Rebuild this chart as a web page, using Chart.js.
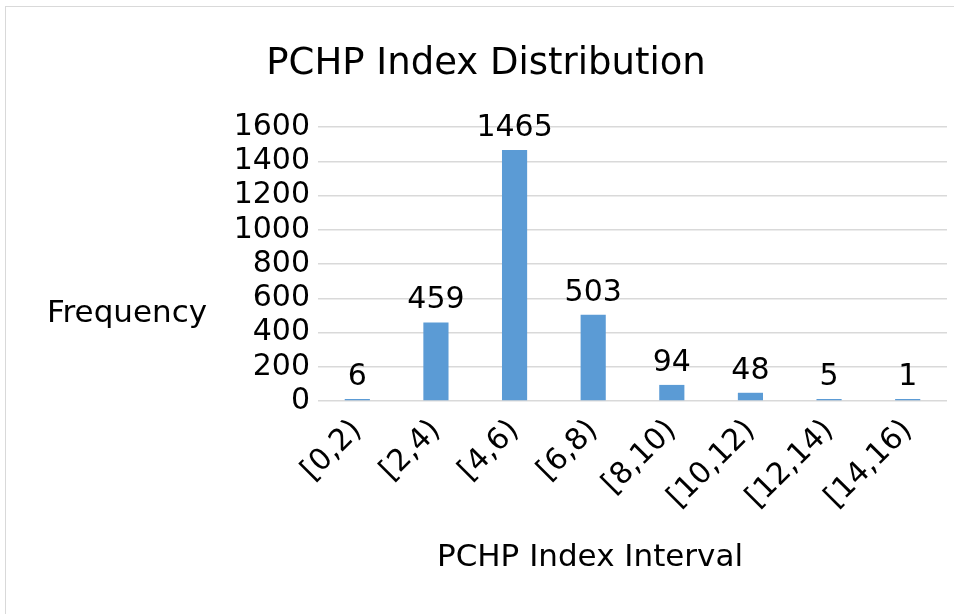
<!DOCTYPE html>
<html>
<head>
<meta charset="utf-8">
<script src="https://cdn.jsdelivr.net/npm/chart.js@4/dist/chart.umd.min.js"></script>
<style>
  html, body { margin: 0; padding: 0; background: #fff; }
  #wrap { width: 954px; height: 614px; }
</style>
</head>
<body>
<div id="wrap"><canvas id="chart" width="954" height="614"></canvas></div>
<script>
const categories = ["[0,2)", "[2,4)", "[4,6)", "[6,8)", "[8,10)", "[10,12)", "[12,14)", "[14,16)"];
const frequency = [6, 459, 1465, 503, 94, 48, 5, 1];
const yTicks = [0, 200, 400, 600, 800, 1000, 1200, 1400, 1600];

const FONT = "'DejaVu Sans', sans-serif";

// light frame around the whole chart, like the office export
const framePlugin = {
  id: "frame",
  beforeDraw(chart) {
    const ctx = chart.ctx;
    ctx.save();
    ctx.fillStyle = "#fff";
    ctx.fillRect(0, 0, chart.width, chart.height);
    ctx.strokeStyle = "#d9d9d9";
    ctx.lineWidth = 1;
    ctx.strokeRect(5.5, 6.5, chart.width + 10, chart.height + 10);
    ctx.restore();
  }
};

// title, axis titles and the value above each bar
const labelPlugin = {
  id: "labels",
  afterDatasetsDraw(chart) {
    const ctx = chart.ctx;
    ctx.save();
    ctx.fillStyle = "#000";
    ctx.textAlign = "center";
    ctx.textBaseline = "middle";
    ctx.font = "30px " + FONT;
    chart.getDatasetMeta(0).data.forEach((bar, i) => {
      ctx.fillText(String(frequency[i]), bar.x, bar.y - 22);
    });
    ctx.font = "37px " + FONT;
    ctx.fillText("PCHP Index Distribution", 486, 64);
    ctx.font = "31px " + FONT;
    ctx.fillText("Frequency", 127, 314);
    ctx.fillText("PCHP Index Interval", 590, 558);
    ctx.restore();
  }
};

new Chart(document.getElementById("chart"), {
  type: "bar",
  data: {
    labels: categories,
    datasets: [{
      data: frequency,
      backgroundColor: "#5b9bd5",
      borderWidth: 0,
      minBarLength: 2,
      categoryPercentage: 1,
      barPercentage: 0.32
    }]
  },
  options: {
    responsive: false,
    animation: false,
    layout: { padding: { left: 0, right: 7, top: 127, bottom: 0 } },
    plugins: {
      legend: { display: false },
      tooltip: { enabled: false },
      title: { display: false }
    },
    scales: {
      x: {
        grid: { display: false, drawTicks: false },
        border: { display: false },
        ticks: {
          color: "#000",
          font: { family: FONT, size: 30 },
          autoSkip: false,
          minRotation: 45,
          maxRotation: 45,
          padding: 12
        },
        afterFit(scale) { scale.height = 213; }
      },
      y: {
        min: 0,
        max: 1600,
        afterBuildTicks(scale) { scale.ticks = yTicks.map(v => ({ value: v })); },
        grid: { color: "#d9d9d9", lineWidth: 1.5, drawTicks: false },
        border: { display: false },
        ticks: {
          color: "#000",
          font: { family: FONT, size: 30 },
          autoSkip: false,
          padding: 8,
          callback: v => String(v)
        },
        afterFit(scale) { scale.width = 318; }
      }
    }
  },
  plugins: [framePlugin, labelPlugin]
});
</script>
</body>
</html>
